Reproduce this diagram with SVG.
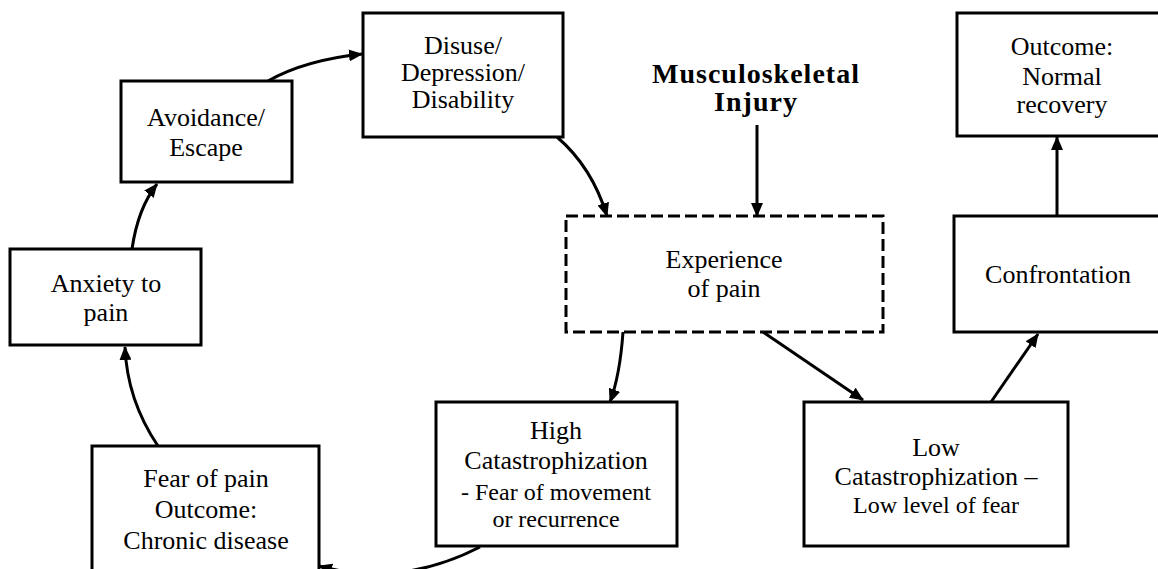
<svg xmlns="http://www.w3.org/2000/svg" width="1158" height="569" viewBox="0 0 1158 569">
<style>
.box{fill:#fff;stroke:#000;stroke-width:3}
.dash{fill:#fff;stroke:#000;stroke-width:3;stroke-dasharray:12 5}
.t{font-size:26px;fill:#000;text-anchor:middle}
.s{font-size:24px}
.b{font-weight:bold;font-size:28px;letter-spacing:1px}
.c{fill:none;stroke:#000;stroke-width:3;marker-end:url(#ah)}
</style>
<defs>
<marker id="ah" markerUnits="userSpaceOnUse" markerWidth="14" markerHeight="12" refX="13" refY="6" orient="auto">
<path d="M0,0 L14,6 L0,12 z" fill="#000"/>
</marker>
</defs>
<rect width="1158" height="569" fill="#fff"/>
<g id="connectors">
<path class="c" d="M158,446 Q127,400 125,347"/>
<path class="c" d="M132,249 Q138,208 157,184"/>
<path class="c" d="M268,81 Q305,60 362,54"/>
<path class="c" d="M557,137 Q592,167 607,216"/>
<path class="c" d="M757,125 L757,216"/>
<path class="c" d="M623,332 Q620,375 610,402"/>
<path class="c" d="M763,332 L863,400"/>
<path class="c" d="M991,402 L1038,334"/>
<path class="c" d="M1057,216 L1057,137"/>
<path class="c" d="M480,547 Q400,588 319,566"/>
</g>
<g font-family="Liberation Serif, Times New Roman, DejaVu Serif, serif">
<g id="injury">
<text class="t b" x="756" y="83">Musculoskeletal</text>
<text class="t b" x="756" y="111">Injury</text>
</g>
<g id="avoidance">
<rect class="box" x="121" y="81" width="171" height="101"/>
<text class="t" x="206" y="126">Avoidance/</text>
<text class="t" x="206" y="156">Escape</text>
</g>
<g id="disuse">
<rect class="box" x="363" y="13" width="200" height="124"/>
<text class="t" x="463" y="54">Disuse/</text>
<text class="t" x="463" y="81">Depression/</text>
<text class="t" x="463" y="108">Disability</text>
</g>
<g id="anxiety">
<rect class="box" x="10" y="249" width="191" height="96"/>
<text class="t" x="106" y="292">Anxiety to</text>
<text class="t" x="106" y="321">pain</text>
</g>
<g id="fear">
<rect class="box" x="92" y="446" width="227" height="130"/>
<text class="t" x="206" y="487">Fear of pain</text>
<text class="t" x="206" y="518">Outcome:</text>
<text class="t" x="206" y="549">Chronic disease</text>
</g>
<g id="experience">
<rect class="dash" x="566" y="216" width="317" height="116"/>
<text class="t" x="724" y="268">Experience</text>
<text class="t" x="724" y="297">of pain</text>
</g>
<g id="high">
<rect class="box" x="436" y="402" width="241" height="144"/>
<text class="t" x="556" y="439">High</text>
<text class="t" x="556" y="469">Catastrophization</text>
<text class="t s" x="556" y="500">- Fear of movement</text>
<text class="t s" x="556" y="527">or recurrence</text>
</g>
<g id="low">
<rect class="box" x="804" y="402" width="264" height="144"/>
<text class="t" x="936" y="456">Low</text>
<text class="t" x="936" y="485">Catastrophization –</text>
<text class="t s" x="936" y="513">Low level of fear</text>
</g>
<g id="confrontation">
<rect class="box" x="954" y="216" width="210" height="116"/>
<text class="t" x="1058" y="283">Confrontation</text>
</g>
<g id="outcome">
<rect class="box" x="957" y="13" width="207" height="123"/>
<text class="t" x="1062" y="55">Outcome:</text>
<text class="t" x="1062" y="85">Normal</text>
<text class="t" x="1062" y="113">recovery</text>
</g>
</g>
</svg>
